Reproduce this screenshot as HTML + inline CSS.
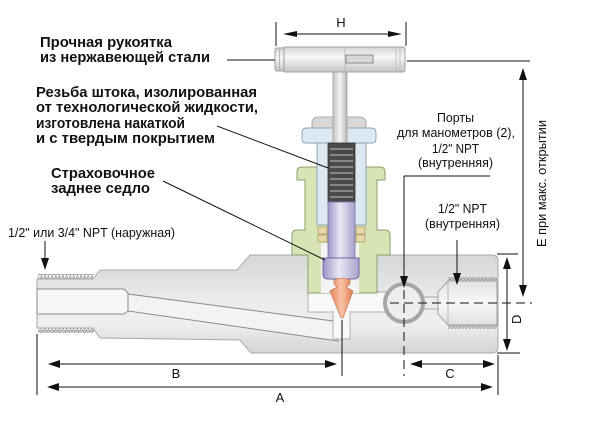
<!DOCTYPE html>
<html><head><meta charset="utf-8">
<style>
html,body{margin:0;padding:0;background:#fff;}
svg{display:block;}
text{font-family:"Liberation Sans","DejaVu Sans",sans-serif;fill:#111;}
.b{font-weight:bold;font-size:15px;}
.n{font-size:13px;}
</style></head><body>
<svg width="600" height="434" viewBox="0 0 600 434" xmlns="http://www.w3.org/2000/svg">
<defs>
<linearGradient id="gBody" x1="0" y1="0" x2="0" y2="1">
 <stop offset="0" stop-color="#d6d6d6"/>
 <stop offset="0.45" stop-color="#ebebeb"/>
 <stop offset="0.7" stop-color="#efefef"/>
 <stop offset="1" stop-color="#d4d4d4"/>
</linearGradient>
<linearGradient id="gHandle" x1="0" y1="0" x2="0" y2="1">
 <stop offset="0" stop-color="#d4d4d4"/>
 <stop offset="0.4" stop-color="#f7f7f7"/>
 <stop offset="1" stop-color="#c4c4c4"/>
</linearGradient>
<linearGradient id="gStemV" x1="0" y1="0" x2="1" y2="0">
 <stop offset="0" stop-color="#c4c4c4"/>
 <stop offset="0.5" stop-color="#f4f4f4"/>
 <stop offset="1" stop-color="#b8b8b8"/>
</linearGradient>
<linearGradient id="gLav" x1="0" y1="0" x2="1" y2="0">
 <stop offset="0" stop-color="#9a96c6"/>
 <stop offset="0.45" stop-color="#eae8f6"/>
 <stop offset="1" stop-color="#a6a2cc"/>
</linearGradient>
<linearGradient id="gSeat" x1="0" y1="0" x2="1" y2="0">
 <stop offset="0" stop-color="#e8865c"/>
 <stop offset="0.5" stop-color="#f8c4a6"/>
 <stop offset="1" stop-color="#e27a52"/>
</linearGradient>
<linearGradient id="gPort" x1="0" y1="0" x2="0" y2="1">
 <stop offset="0" stop-color="#e2e2e2"/>
 <stop offset="0.5" stop-color="#f8f8f8"/>
 <stop offset="1" stop-color="#e0e0e0"/>
</linearGradient>
<pattern id="thUp" x="0" y="0" width="3.6" height="5" patternUnits="userSpaceOnUse">
 <path d="M0,5 L1.8,0 L3.6,5 Z" fill="#cfcfcf" stroke="#8c8c8c" stroke-width="0.6"/>
</pattern>
<pattern id="thDn" x="0" y="0" width="3.6" height="5" patternUnits="userSpaceOnUse">
 <path d="M0,0 L1.8,5 L3.6,0 Z" fill="#cfcfcf" stroke="#8c8c8c" stroke-width="0.6"/>
</pattern>
</defs>

<!-- ===== BODY ===== -->
<rect x="38" y="274" width="56" height="5" fill="url(#thUp)"/>
<rect x="38" y="328" width="56" height="5" fill="url(#thDn)"/>
<path d="M37,279 L93,279 L100,270 L237,270 L250,255 L492,255 Q498,255 498,261 L498,347 Q498,353 492,353 L251,353 L240,340 L100,338 L93,328 L37,328 Z" fill="url(#gBody)" stroke="#a8a8a8" stroke-width="1"/>

<!-- left bore -->
<path d="M37,289 L124,289 L128,293 L128,311 L124,314 L37,314 Z" fill="#f6f6f6" stroke="#8a8a8a" stroke-width="1"/>
<!-- slanted passage -->
<path d="M128,294 L333,321 L338,341 L128,311 Z" fill="#f3f3f3" stroke="#8a8a8a" stroke-width="1"/>
<!-- chamber -->
<rect x="308" y="292" width="78" height="20" fill="#f8f8f8" stroke="#a0a0a0" stroke-width="0.8"/>
<!-- outlet bore -->
<rect x="333" y="305" width="17" height="34" fill="#f8f8f8" stroke="#a0a0a0" stroke-width="0.8"/>
<rect x="334" y="303" width="15" height="12" fill="#f8f8f8"/>
<rect x="309" y="293" width="76" height="18" fill="#f8f8f8"/>

<!-- ball cavity -->
<rect x="421" y="297" width="20" height="12" fill="#ececec" stroke="#999" stroke-width="0.8"/>
<circle cx="404" cy="303" r="19" fill="#ededed" stroke="#a6a6a6" stroke-width="4"/>

<!-- female port -->
<rect x="448" y="277" width="49" height="5" fill="url(#thUp)"/>
<rect x="448" y="324" width="49" height="5" fill="url(#thDn)"/>
<path d="M438,292 L448,281 L497,281 L497,325 L448,325 L438,314 Z" fill="url(#gPort)" stroke="#999" stroke-width="0.9"/>
<line x1="448" y1="281" x2="448" y2="325" stroke="#aaa" stroke-width="0.8"/>

<!-- ===== BONNET (green) ===== -->
<path d="M297,172 Q297,167 302,167 L380,167 Q385,167 385,172 L385,180 L377,180 L377,230 L385,230 Q390,230 390,235 L390,255 L377,255 L377,293 L308,293 L308,255 L292,255 L292,235 Q292,230 297,230 L305,230 L305,180 L297,180 Z" fill="#d6e4b6" stroke="#8c9e6c" stroke-width="1"/>
<!-- cavity inside bonnet -->
<rect x="321" y="243" width="38" height="50" fill="#f4f4f4"/>

<!-- packing nut (blue) -->
<path d="M312,128 L312,121 Q314,117 318,117 L360,117 Q364,117 366,121 L366,128 Z" fill="#d8d8d8" stroke="#9a9a9a" stroke-width="0.8"/>
<path d="M302,133 Q302,128 307,128 L371,128 Q376,128 376,133 L376,139 Q376,143 372,143 L306,143 Q302,143 302,139 Z" fill="#dce8f2" stroke="#8aa0b2" stroke-width="0.9"/>
<rect x="317" y="143" width="49" height="82" fill="#dce8f2" stroke="#8aa0b2" stroke-width="0.9"/>

<!-- packing rings -->
<g fill="#e8d8aa" stroke="#a08850" stroke-width="0.6">
<rect x="318" y="227" width="9" height="7"/><rect x="318" y="235" width="9" height="7"/>
<rect x="356" y="227" width="9" height="7"/><rect x="356" y="235" width="9" height="7"/>
</g>

<!-- upper stem -->
<rect x="333" y="72" width="14" height="72" fill="url(#gStemV)" stroke="#999" stroke-width="0.8"/>
<!-- threaded stem -->
<rect x="328" y="143" width="27" height="60" fill="#4a4a4a" stroke="#333" stroke-width="0.8"/>
<g stroke="#9a9a9a" stroke-width="1.6">
<line x1="330" y1="149" x2="353" y2="149"/><line x1="330" y1="155" x2="353" y2="155"/>
<line x1="330" y1="161" x2="353" y2="161"/><line x1="330" y1="167" x2="353" y2="167"/>
<line x1="330" y1="173" x2="353" y2="173"/><line x1="330" y1="179" x2="353" y2="179"/>
<line x1="330" y1="185" x2="353" y2="185"/><line x1="330" y1="191" x2="353" y2="191"/>
<line x1="330" y1="197" x2="353" y2="197"/>
</g>
<!-- lower stem (lavender) -->
<rect x="328" y="202" width="27" height="62" fill="url(#gLav)" stroke="#7a76a8" stroke-width="0.8"/>
<path d="M323,258 L359,258 L359,274 Q359,279 354,279 L328,279 Q323,279 323,274 Z" fill="url(#gLav)" stroke="#6e6aa0" stroke-width="1"/>
<!-- seat -->
<path d="M334,280 Q342,276 350,280 L350,284 L346,287 L353,291 L343,318 L341,318 L330,291 L337,287 L334,284 Z" fill="url(#gSeat)" stroke="#c0643e" stroke-width="0.6"/>

<!-- ===== HANDLE ===== -->
<rect x="283" y="47" width="122" height="25" rx="2" fill="url(#gHandle)" stroke="#a0a0a0" stroke-width="1"/>
<rect x="275" y="48" width="9" height="23" rx="2" fill="url(#gHandle)" stroke="#a0a0a0" stroke-width="1"/>
<line x1="279.5" y1="49" x2="279.5" y2="70" stroke="#b0b0b0" stroke-width="0.8"/>
<line x1="345" y1="48" x2="345" y2="71" stroke="#b0b0b0" stroke-width="0.8"/>
<rect x="346" y="55" width="27" height="8" fill="#d8d8d8" stroke="#777" stroke-width="0.8"/>
<line x1="396" y1="47" x2="396" y2="72" stroke="#b8b8b8" stroke-width="0.8"/>
<line x1="400" y1="47" x2="400" y2="72" stroke="#b8b8b8" stroke-width="0.8"/>

<!-- ===== DIMENSION / LEADER LINES ===== -->
<g stroke="#111" stroke-width="1" fill="none">
<line x1="276" y1="22" x2="276" y2="46"/>
<line x1="406" y1="22" x2="406" y2="46"/>
<line x1="288" y1="34" x2="398" y2="34"/>
<line x1="227" y1="60" x2="275" y2="60"/>
<line x1="407" y1="61" x2="530" y2="61"/>
<line x1="523" y1="74" x2="523" y2="291"/>
<line x1="404" y1="176" x2="490" y2="176"/>
<line x1="404" y1="176" x2="404" y2="280"/>
<line x1="457" y1="240" x2="457" y2="278"/>
<line x1="45" y1="241" x2="45" y2="262"/>
<line x1="217" y1="126" x2="328" y2="168"/>
<line x1="163" y1="181" x2="325" y2="260"/>
<line x1="497" y1="254" x2="518" y2="254"/>
<line x1="497" y1="353" x2="520" y2="353"/>
<line x1="507" y1="264" x2="507" y2="344"/>
<line x1="37" y1="334" x2="37" y2="395"/>
<line x1="54" y1="364" x2="331" y2="364"/>
<line x1="342" y1="320" x2="342" y2="376"/>
<line x1="416" y1="364" x2="489" y2="364"/>
<line x1="53" y1="387" x2="487" y2="387"/>
<line x1="498" y1="355" x2="498" y2="395"/>
</g>
<g stroke="#111" stroke-width="1" fill="none" stroke-dasharray="9 5">
<line x1="390" y1="303" x2="532" y2="303"/>
<line x1="404" y1="290" x2="404" y2="376"/>
</g>
<g fill="#111">
<polygon points="283,34 297,31 297,37"/>
<polygon points="402,34 388,31 388,37"/>
<polygon points="523,68 519,80 527,80"/>
<polygon points="523,297 519,285 527,285"/>
<polygon points="404,288 400,276 408,276"/>
<polygon points="457,285 453,273 461,273"/>
<polygon points="45,270 41,258 49,258"/>
<polygon points="507,257 503,269 511,269"/>
<polygon points="507,351 503,339 511,339"/>
<polygon points="48,364 60,360 60,368"/>
<polygon points="337,364 325,360 325,368"/>
<polygon points="410,364 422,360 422,368"/>
<polygon points="495,364 483,360 483,368"/>
<polygon points="47,387 59,383 59,391"/>
<polygon points="493,387 481,383 481,391"/>
</g>

<!-- ===== TEXT ===== -->
<text class="b" x="40" y="47" textLength="132" lengthAdjust="spacingAndGlyphs">Прочная рукоятка</text>
<text class="b" x="40" y="62" textLength="170" lengthAdjust="spacingAndGlyphs">из нержавеющей стали</text>
<text class="b" x="36" y="97" textLength="221" lengthAdjust="spacingAndGlyphs">Резьба штока, изолированная</text>
<text class="b" x="36" y="112" textLength="222" lengthAdjust="spacingAndGlyphs">от технологической жидкости,</text>
<text class="b" x="36" y="128" textLength="149" lengthAdjust="spacingAndGlyphs">изготовлена накаткой</text>
<text class="b" x="36" y="143" textLength="179" lengthAdjust="spacingAndGlyphs">и с твердым покрытием</text>
<text class="b" x="51" y="178" textLength="104" lengthAdjust="spacingAndGlyphs">Страховочное</text>
<text class="b" x="51" y="193" textLength="99" lengthAdjust="spacingAndGlyphs">заднее седло</text>

<text class="n" x="8" y="237" textLength="167" lengthAdjust="spacingAndGlyphs">1/2" или 3/4" NPT (наружная)</text>

<text class="n" x="437" y="122" textLength="37" lengthAdjust="spacingAndGlyphs">Порты</text>
<text class="n" x="397" y="137" textLength="118" lengthAdjust="spacingAndGlyphs">для манометров (2),</text>
<text class="n" x="432" y="153" textLength="47" lengthAdjust="spacingAndGlyphs">1/2" NPT</text>
<text class="n" x="418" y="167" textLength="75" lengthAdjust="spacingAndGlyphs">(внутренняя)</text>

<text class="n" x="438" y="213" textLength="49" lengthAdjust="spacingAndGlyphs">1/2" NPT</text>
<text class="n" x="425" y="228" textLength="75" lengthAdjust="spacingAndGlyphs">(внутренняя)</text>

<text class="n" x="0" y="0" transform="translate(546,247) rotate(-90)" textLength="127" lengthAdjust="spacingAndGlyphs">E при макс. открытии</text>
<text class="n" x="0" y="0" transform="translate(521,324) rotate(-90)">D</text>

<text class="n" x="341" y="27" text-anchor="middle">H</text>
<text class="n" x="176" y="378" text-anchor="middle">B</text>
<text class="n" x="280" y="402" text-anchor="middle">A</text>
<text class="n" x="450" y="378" text-anchor="middle">C</text>
</svg>
</body></html>
